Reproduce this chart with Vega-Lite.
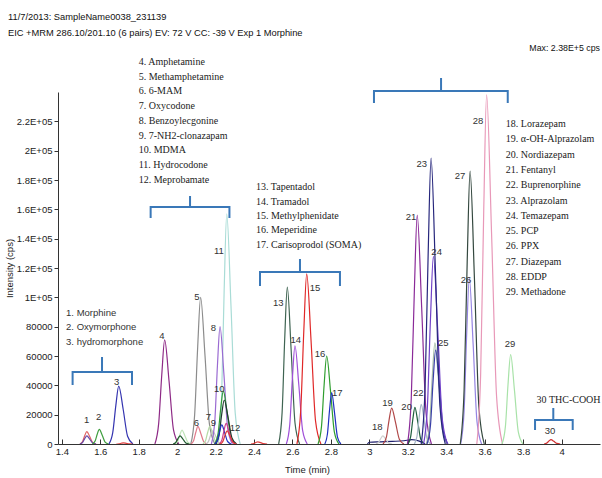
{
"$schema":"https://vega.github.io/schema/vega-lite/v6.json",
"width":542,"height":352,
"autosize":{"type":"none"},
"padding":{"left":58,"top":92,"right":2,"bottom":34},
"background":"white",
"config":{"view":{"stroke":null},"axis":{"grid":false,"domainColor":"#333","tickColor":"#333","labelColor":"#222","titleColor":"#222","labelFont":"Liberation Sans","titleFont":"Liberation Sans","labelFontSize":9.5,"titleFontSize":9.5,"titleFontWeight":"normal"}},
"datasets":{
"peaks":[
{"s":"p11","t":2.213,"v":0},{"s":"p11","t":2.231,"v":31400},{"s":"p11","t":2.2445,"v":104700},{"s":"p11","t":2.258,"v":157000},{"s":"p11","t":2.28,"v":94200},{"s":"p11","t":2.302,"v":21200},{"s":"p11","t":2.328,"v":0},
{"s":"p1a","t":1.494,"v":0},{"s":"p1a","t":1.508,"v":1700},{"s":"p1a","t":1.519,"v":5670},{"s":"p1a","t":1.53,"v":8500},{"s":"p1a","t":1.545,"v":5100},{"s":"p1a","t":1.56,"v":1150},{"s":"p1a","t":1.578,"v":0},
{"s":"p1b","t":1.494,"v":0},{"s":"p1b","t":1.508,"v":1100},{"s":"p1b","t":1.519,"v":3670},{"s":"p1b","t":1.53,"v":5500},{"s":"p1b","t":1.545,"v":3300},{"s":"p1b","t":1.56,"v":740},{"s":"p1b","t":1.578,"v":0},
{"s":"p2","t":1.559,"v":0},{"s":"p2","t":1.573,"v":2000},{"s":"p2","t":1.584,"v":6670},{"s":"p2","t":1.595,"v":10000},{"s":"p2","t":1.61,"v":6000},{"s":"p2","t":1.625,"v":1350},{"s":"p2","t":1.643,"v":0},
{"s":"p3","t":1.645,"v":0},{"s":"p3","t":1.665,"v":7900},{"s":"p3","t":1.681,"v":26350},{"s":"p3","t":1.696,"v":39500},{"s":"p3","t":1.719,"v":23700},{"s":"p3","t":1.742,"v":5330},{"s":"p3","t":1.77,"v":0},
{"s":"r1","t":1.684,"v":0},{"s":"r1","t":1.698,"v":160},{"s":"r1","t":1.709,"v":530},{"s":"r1","t":1.72,"v":800},{"s":"r1","t":1.735,"v":480},{"s":"r1","t":1.75,"v":110},{"s":"r1","t":1.768,"v":0},
{"s":"p4","t":1.884,"v":0},{"s":"p4","t":1.904,"v":14200},{"s":"p4","t":1.92,"v":47360},{"s":"p4","t":1.935,"v":71000},{"s":"p4","t":1.958,"v":42600},{"s":"p4","t":1.981,"v":9590},{"s":"p4","t":2.009,"v":0},
{"s":"g2","t":1.989,"v":0},{"s":"g2","t":2.003,"v":1900},{"s":"g2","t":2.014,"v":6340},{"s":"g2","t":2.025,"v":9500},{"s":"g2","t":2.04,"v":5700},{"s":"g2","t":2.055,"v":1280},{"s":"g2","t":2.073,"v":0},
{"s":"g1","t":1.979,"v":0},{"s":"g1","t":1.993,"v":1100},{"s":"g1","t":2.004,"v":3670},{"s":"g1","t":2.015,"v":5500},{"s":"g1","t":2.03,"v":3300},{"s":"g1","t":2.045,"v":740},{"s":"g1","t":2.063,"v":0},
{"s":"p5","t":2.071,"v":0},{"s":"p5","t":2.091,"v":20000},{"s":"p5","t":2.107,"v":66700},{"s":"p5","t":2.122,"v":100000},{"s":"p5","t":2.145,"v":60000},{"s":"p5","t":2.168,"v":13500},{"s":"p5","t":2.196,"v":0},
{"s":"p6","t":2.072,"v":0},{"s":"p6","t":2.086,"v":2400},{"s":"p6","t":2.097,"v":8000},{"s":"p6","t":2.108,"v":12000},{"s":"p6","t":2.123,"v":7200},{"s":"p6","t":2.138,"v":1620},{"s":"p6","t":2.156,"v":0},
{"s":"p7","t":2.134,"v":0},{"s":"p7","t":2.148,"v":2400},{"s":"p7","t":2.159,"v":8000},{"s":"p7","t":2.17,"v":12000},{"s":"p7","t":2.185,"v":7200},{"s":"p7","t":2.2,"v":1620},{"s":"p7","t":2.218,"v":0},
{"s":"p9","t":2.149,"v":0},{"s":"p9","t":2.163,"v":1800},{"s":"p9","t":2.174,"v":6000},{"s":"p9","t":2.185,"v":9000},{"s":"p9","t":2.2,"v":5400},{"s":"p9","t":2.215,"v":1220},{"s":"p9","t":2.233,"v":0},
{"s":"p8","t":2.178,"v":0},{"s":"p8","t":2.196,"v":16000},{"s":"p8","t":2.2095,"v":53360},{"s":"p8","t":2.223,"v":80000},{"s":"p8","t":2.243,"v":48000},{"s":"p8","t":2.263,"v":10800},{"s":"p8","t":2.287,"v":0},
{"s":"p10","t":2.195,"v":0},{"s":"p10","t":2.213,"v":7200},{"s":"p10","t":2.2265,"v":24000},{"s":"p10","t":2.24,"v":36000},{"s":"p10","t":2.26,"v":21600},{"s":"p10","t":2.28,"v":4860},{"s":"p10","t":2.304,"v":0},
{"s":"p10b","t":2.2,"v":0},{"s":"p10b","t":2.218,"v":6000},{"s":"p10b","t":2.2315,"v":20000},{"s":"p10b","t":2.245,"v":30000},{"s":"p10b","t":2.265,"v":18000},{"s":"p10b","t":2.285,"v":4050},{"s":"p10b","t":2.309,"v":0},
{"s":"pb","t":2.196,"v":0},{"s":"pb","t":2.21,"v":2600},{"s":"pb","t":2.221,"v":8670},{"s":"pb","t":2.232,"v":13000},{"s":"pb","t":2.247,"v":7800},{"s":"pb","t":2.262,"v":1760},{"s":"pb","t":2.28,"v":0},
{"s":"p12","t":2.219,"v":0},{"s":"p12","t":2.233,"v":2800},{"s":"p12","t":2.244,"v":9340},{"s":"p12","t":2.255,"v":14000},{"s":"p12","t":2.27,"v":8400},{"s":"p12","t":2.285,"v":1890},{"s":"p12","t":2.303,"v":0},
{"s":"r2","t":2.224,"v":0},{"s":"r2","t":2.238,"v":1800},{"s":"r2","t":2.249,"v":6000},{"s":"r2","t":2.26,"v":9000},{"s":"r2","t":2.275,"v":5400},{"s":"r2","t":2.29,"v":1220},{"s":"r2","t":2.308,"v":0},
{"s":"r3","t":2.384,"v":0},{"s":"r3","t":2.398,"v":300},{"s":"r3","t":2.409,"v":1000},{"s":"r3","t":2.42,"v":1500},{"s":"r3","t":2.435,"v":900},{"s":"r3","t":2.45,"v":200},{"s":"r3","t":2.468,"v":0},
{"s":"p13","t":2.528,"v":0},{"s":"p13","t":2.546,"v":21400},{"s":"p13","t":2.5595,"v":71370},{"s":"p13","t":2.573,"v":107000},{"s":"p13","t":2.593,"v":64200},{"s":"p13","t":2.613,"v":14450},{"s":"p13","t":2.637,"v":0},
{"s":"p14","t":2.568,"v":0},{"s":"p14","t":2.586,"v":13400},{"s":"p14","t":2.5995,"v":44690},{"s":"p14","t":2.613,"v":67000},{"s":"p14","t":2.633,"v":40200},{"s":"p14","t":2.653,"v":9050},{"s":"p14","t":2.677,"v":0},
{"s":"p15","t":2.623,"v":0},{"s":"p15","t":2.643,"v":23200},{"s":"p15","t":2.659,"v":77370},{"s":"p15","t":2.674,"v":116000},{"s":"p15","t":2.697,"v":69600},{"s":"p15","t":2.72,"v":15660},{"s":"p15","t":2.748,"v":0},
{"s":"p16","t":2.733,"v":0},{"s":"p16","t":2.751,"v":12000},{"s":"p16","t":2.7645,"v":40020},{"s":"p16","t":2.778,"v":60000},{"s":"p16","t":2.798,"v":36000},{"s":"p16","t":2.818,"v":8100},{"s":"p16","t":2.842,"v":0},
{"s":"p17","t":2.768,"v":0},{"s":"p17","t":2.782,"v":7000},{"s":"p17","t":2.793,"v":23350},{"s":"p17","t":2.804,"v":35000},{"s":"p17","t":2.819,"v":21000},{"s":"p17","t":2.834,"v":4730},{"s":"p17","t":2.852,"v":0},
{"s":"nb","t":2.99,"v":0},{"s":"nb","t":3.0,"v":1200},{"s":"nb","t":3.06,"v":1500},{"s":"nb","t":3.12,"v":1800},{"s":"nb","t":3.18,"v":2200},{"s":"nb","t":3.22,"v":3000},{"s":"nb","t":3.26,"v":2000},{"s":"nb","t":3.29,"v":0},
{"s":"p18","t":3.034,"v":0},{"s":"p18","t":3.048,"v":1100},{"s":"p18","t":3.059,"v":3670},{"s":"p18","t":3.07,"v":5500},{"s":"p18","t":3.085,"v":3300},{"s":"p18","t":3.1,"v":740},{"s":"p18","t":3.118,"v":0},
{"s":"p19","t":3.071,"v":0},{"s":"p19","t":3.089,"v":4900},{"s":"p19","t":3.1025,"v":16340},{"s":"p19","t":3.116,"v":24500},{"s":"p19","t":3.136,"v":14700},{"s":"p19","t":3.156,"v":3310},{"s":"p19","t":3.18,"v":0},
{"s":"p20","t":3.201,"v":0},{"s":"p20","t":3.215,"v":5000},{"s":"p20","t":3.226,"v":16680},{"s":"p20","t":3.237,"v":25000},{"s":"p20","t":3.252,"v":15000},{"s":"p20","t":3.267,"v":3380},{"s":"p20","t":3.285,"v":0},
{"s":"p22","t":3.234,"v":0},{"s":"p22","t":3.248,"v":5400},{"s":"p22","t":3.259,"v":18010},{"s":"p22","t":3.27,"v":27000},{"s":"p22","t":3.285,"v":16200},{"s":"p22","t":3.3,"v":3650},{"s":"p22","t":3.318,"v":0},
{"s":"p21","t":3.198,"v":0},{"s":"p21","t":3.218,"v":31200},{"s":"p21","t":3.234,"v":104050},{"s":"p21","t":3.249,"v":156000},{"s":"p21","t":3.272,"v":93600},{"s":"p21","t":3.295,"v":21060},{"s":"p21","t":3.323,"v":0},
{"s":"p25","t":3.296,"v":0},{"s":"p25","t":3.314,"v":13800},{"s":"p25","t":3.3275,"v":46020},{"s":"p25","t":3.341,"v":69000},{"s":"p25","t":3.361,"v":41400},{"s":"p25","t":3.381,"v":9320},{"s":"p25","t":3.405,"v":0},
{"s":"n25","t":3.3,"v":0},{"s":"n25","t":3.318,"v":12800},{"s":"n25","t":3.3315,"v":42690},{"s":"n25","t":3.345,"v":64000},{"s":"n25","t":3.365,"v":38400},{"s":"n25","t":3.385,"v":8640},{"s":"n25","t":3.409,"v":0},
{"s":"p24","t":3.282,"v":0},{"s":"p24","t":3.302,"v":25600},{"s":"p24","t":3.318,"v":85380},{"s":"p24","t":3.333,"v":128000},{"s":"p24","t":3.356,"v":76800},{"s":"p24","t":3.379,"v":17280},{"s":"p24","t":3.407,"v":0},
{"s":"p23","t":3.27,"v":0},{"s":"p23","t":3.29,"v":39000},{"s":"p23","t":3.306,"v":130070},{"s":"p23","t":3.321,"v":195000},{"s":"p23","t":3.344,"v":117000},{"s":"p23","t":3.367,"v":26330},{"s":"p23","t":3.395,"v":0},
{"s":"p26","t":3.475,"v":0},{"s":"p26","t":3.493,"v":22600},{"s":"p26","t":3.5065,"v":75370},{"s":"p26","t":3.52,"v":113000},{"s":"p26","t":3.54,"v":67800},{"s":"p26","t":3.56,"v":15260},{"s":"p26","t":3.584,"v":0},
{"s":"p27","t":3.473,"v":0},{"s":"p27","t":3.493,"v":37200},{"s":"p27","t":3.509,"v":124060},{"s":"p27","t":3.524,"v":186000},{"s":"p27","t":3.547,"v":111600},{"s":"p27","t":3.57,"v":25110},{"s":"p27","t":3.598,"v":0},
{"s":"p28","t":3.559,"v":0},{"s":"p28","t":3.579,"v":47600},{"s":"p28","t":3.595,"v":158750},{"s":"p28","t":3.61,"v":238000},{"s":"p28","t":3.636,"v":142800},{"s":"p28","t":3.662,"v":32130},{"s":"p28","t":3.693,"v":0},
{"s":"p29","t":3.69,"v":0},{"s":"p29","t":3.708,"v":12200},{"s":"p29","t":3.7215,"v":40690},{"s":"p29","t":3.735,"v":61000},{"s":"p29","t":3.755,"v":36600},{"s":"p29","t":3.775,"v":8240},{"s":"p29","t":3.799,"v":0},
{"s":"p30","t":3.909,"v":0},{"s":"p30","t":3.923,"v":600},{"s":"p30","t":3.934,"v":2000},{"s":"p30","t":3.945,"v":3000},{"s":"p30","t":3.96,"v":1800},{"s":"p30","t":3.975,"v":410},{"s":"p30","t":3.993,"v":0}
],
"braces":[
{"b":1,"o":1,"t":1.456,"v":40200},{"b":1,"o":2,"t":1.456,"v":49100},{"b":1,"o":3,"t":1.609,"v":49100},{"b":1,"o":4,"t":1.609,"v":59300},{"b":1,"o":5,"t":1.609,"v":49100},{"b":1,"o":6,"t":1.765,"v":49100},{"b":1,"o":7,"t":1.765,"v":40200},
{"b":2,"o":1,"t":1.862,"v":154100},{"b":2,"o":2,"t":1.862,"v":161600},{"b":2,"o":3,"t":2.067,"v":161600},{"b":2,"o":4,"t":2.067,"v":169100},{"b":2,"o":5,"t":2.067,"v":161600},{"b":2,"o":6,"t":2.272,"v":161600},{"b":2,"o":7,"t":2.272,"v":154100},
{"b":3,"o":1,"t":2.431,"v":107700},{"b":3,"o":2,"t":2.431,"v":117300},{"b":3,"o":3,"t":2.639,"v":117300},{"b":3,"o":4,"t":2.639,"v":126100},{"b":3,"o":5,"t":2.639,"v":117300},{"b":3,"o":6,"t":2.847,"v":117300},{"b":3,"o":7,"t":2.847,"v":107700},
{"b":4,"o":1,"t":3.024,"v":232500},{"b":4,"o":2,"t":3.024,"v":240700},{"b":4,"o":3,"t":3.373,"v":240700},{"b":4,"o":4,"t":3.373,"v":249500},{"b":4,"o":5,"t":3.373,"v":240700},{"b":4,"o":6,"t":3.72,"v":240700},{"b":4,"o":7,"t":3.72,"v":232500},
{"b":5,"o":1,"t":3.862,"v":9500},{"b":5,"o":2,"t":3.862,"v":16400},{"b":5,"o":3,"t":3.957,"v":16400},{"b":5,"o":4,"t":3.957,"v":24500},{"b":5,"o":5,"t":3.957,"v":16400},{"b":5,"o":6,"t":4.058,"v":16400},{"b":5,"o":7,"t":4.058,"v":9500}
],
"labels":[
{"t":1.529,"v":16400,"txt":"1"},{"t":1.592,"v":18600,"txt":"2"},{"t":1.685,"v":42500,"txt":"3"},{"t":1.921,"v":73600,"txt":"4"},{"t":2.103,"v":100000,"txt":"5"},{"t":2.1,"v":14100,"txt":"6"},{"t":2.162,"v":18200,"txt":"7"},{"t":2.188,"v":78900,"txt":"8"},{"t":2.188,"v":14100,"txt":"9"},{"t":2.219,"v":37300,"txt":"10"},{"t":2.217,"v":131600,"txt":"11"},{"t":2.301,"v":10700,"txt":"12"},{"t":2.526,"v":96300,"txt":"13"},{"t":2.617,"v":70900,"txt":"14"},{"t":2.717,"v":106200,"txt":"15"},{"t":2.743,"v":61400,"txt":"16"},{"t":2.833,"v":34600,"txt":"17"},{"t":3.041,"v":11400,"txt":"18"},{"t":3.095,"v":27700,"txt":"19"},{"t":3.194,"v":25400,"txt":"20"},{"t":3.217,"v":154600,"txt":"21"},{"t":3.254,"v":34600,"txt":"22"},{"t":3.273,"v":190900,"txt":"23"},{"t":3.35,"v":131100,"txt":"24"},{"t":3.385,"v":68700,"txt":"25"},{"t":3.503,"v":111800,"txt":"26"},{"t":3.472,"v":182700,"txt":"27"},{"t":3.565,"v":220200,"txt":"28"},{"t":3.732,"v":68000,"txt":"29"},{"t":3.94,"v":9100,"txt":"30"}
],
"blockA":[
{"t":1.422,"v":89300,"txt":"1. Morphine"},{"t":1.422,"v":79800,"txt":"2. Oxymorphone"},{"t":1.422,"v":69500,"txt":"3. hydromorphone"}
],
"serif":[
{"t":1.8,"v":260400,"txt":"4. Amphetamine"},{"t":1.8,"v":250400,"txt":"5. Methamphetamine"},{"t":1.8,"v":240400,"txt":"6. 6-MAM"},{"t":1.8,"v":230300,"txt":"7. Oxycodone"},{"t":1.8,"v":220300,"txt":"8. Benzoylecgonine"},{"t":1.8,"v":210300,"txt":"9. 7-NH2-clonazapam"},{"t":1.8,"v":200300,"txt":"10. MDMA"},{"t":1.8,"v":190300,"txt":"11. Hydrocodone"},{"t":1.8,"v":180200,"txt":"12. Meprobamate"},
{"t":2.41,"v":175200,"txt":"13. Tapentadol"},{"t":2.41,"v":165300,"txt":"14. Tramadol"},{"t":2.41,"v":155500,"txt":"15. Methylphenidate"},{"t":2.41,"v":145600,"txt":"16. Meperidine"},{"t":2.41,"v":135700,"txt":"17. Carisoprodol (SOMA)"},
{"t":3.71,"v":218200,"txt":"18. Lorazepam"},{"t":3.71,"v":207800,"txt":"19. α-OH-Alprazolam"},{"t":3.71,"v":197300,"txt":"20. Nordiazepam"},{"t":3.71,"v":186900,"txt":"21. Fentanyl"},{"t":3.71,"v":176500,"txt":"22. Buprenorphine"},{"t":3.71,"v":166000,"txt":"23. Alprazolam"},{"t":3.71,"v":155600,"txt":"24. Temazepam"},{"t":3.71,"v":145200,"txt":"25. PCP"},{"t":3.71,"v":134800,"txt":"26. PPX"},{"t":3.71,"v":124300,"txt":"27. Diazepam"},{"t":3.71,"v":113900,"txt":"28. EDDP"},{"t":3.71,"v":103500,"txt":"29. Methadone"},
{"t":3.87,"v":30000,"txt":"30 THC-COOH"}
],
"header":[
{"t":1.12,"v":291100,"txt":"11/7/2013: SampleName0038_231139"},{"t":1.12,"v":280200,"txt":"EIC +MRM 286.10/201.10 (6 pairs) EV: 72 V CC: -39 V Exp 1 Morphine"}
],
"maxnote":[
{"t":4.2,"v":270000,"txt":"Max: 2.38E+5 cps"}
]
},
"encoding":{
  "x":{"field":"t","type":"quantitative","title":"Time (min)","scale":{"domain":[1.38,4.2],"nice":false,"zero":false},
       "axis":{"values":[1.4,1.6,1.8,2,2.2,2.4,2.6,2.8,3,3.2,3.4,3.6,3.8,4],"labelExpr":"format(datum.value,'~g')","labelOverlap":false,"tickSize":-5,"labelPadding":7,"titleX":249,"titleY":20}},
  "y":{"field":"v","type":"quantitative","title":"Intensity (cps)","scale":{"domain":[0,240000],"nice":false},
       "axis":{"values":[0,20000,40000,60000,80000,100000,120000,140000,160000,180000,200000,220000],"labelExpr":"datum.value >= 100000 ? (datum.value/100000) + 'E+05' : datum.value + ''","labelOverlap":false,"tickSize":4,"labelPadding":2,"titlePadding":2}}
},
"layer":[
{"data":{"name":"peaks"},
 "mark":{"type":"line","interpolate":"monotone","strokeWidth":1.2,"clip":true},
 "encoding":{
  "color":{"field":"s","type":"nominal","legend":null,"scale":{
    "domain":["p11","p1a","p1b","p2","p3","r1","p4","g2","g1","p5","p6","p7","p9","p8","p10","p10b","pb","p12","r2","r3","p13","p14","p15","p16","p17","nb","p18","p19","p20","p22","p21","p25","n25","p24","p23","p26","p27","p28","p29","p30"],
    "range":["#a9dcd6","#e06060","#6a4aa8","#3e9e3e","#3434b0","#e04040","#8e2a86","#bfe3b8","#1f5a2e","#8c8c8c","#e07a8a","#b5dba5","#c4c4c4","#9a6ad2","#2f9a3a","#203a30","#2030c0","#cc3d8a","#e03a3a","#e04040","#3f6452","#a050d8","#e02828","#2f9e2f","#2030c0","#20206e","#cfcfcf","#b04848","#1f5e3e","#a8b8c8","#8a2a98","#a6bca6","#3a40a8","#7040c8","#26267c","#9484e2","#34483f","#e898b8","#a8e2a8","#d03030"]}}
 }},
{"data":{"name":"braces"},
 "mark":{"type":"line","color":"#3a78b8","strokeWidth":2,"clip":false},
 "encoding":{"detail":{"field":"b","type":"nominal"},"order":{"field":"o","type":"quantitative"}}},
{"data":{"name":"labels"},
 "mark":{"type":"text","font":"Liberation Sans","fontSize":9.5,"color":"#333","align":"center","baseline":"middle","clip":false},
 "encoding":{"text":{"field":"txt"}}},
{"data":{"name":"blockA"},
 "mark":{"type":"text","font":"Liberation Sans","fontSize":9.5,"color":"#333","align":"left","baseline":"middle","clip":false},
 "encoding":{"text":{"field":"txt"}}},
{"data":{"name":"serif"},
 "mark":{"type":"text","font":"Liberation Serif","fontSize":10,"color":"#222","align":"left","baseline":"middle","clip":false},
 "encoding":{"text":{"field":"txt"}}},
{"data":{"name":"header"},
 "mark":{"type":"text","font":"Liberation Sans","fontSize":9.3,"color":"#111","align":"left","baseline":"middle","clip":false},
 "encoding":{"text":{"field":"txt"}}},
{"data":{"name":"maxnote"},
 "mark":{"type":"text","font":"Liberation Sans","fontSize":8.8,"color":"#111","align":"right","baseline":"middle","clip":false},
 "encoding":{"text":{"field":"txt"}}}
]
}
